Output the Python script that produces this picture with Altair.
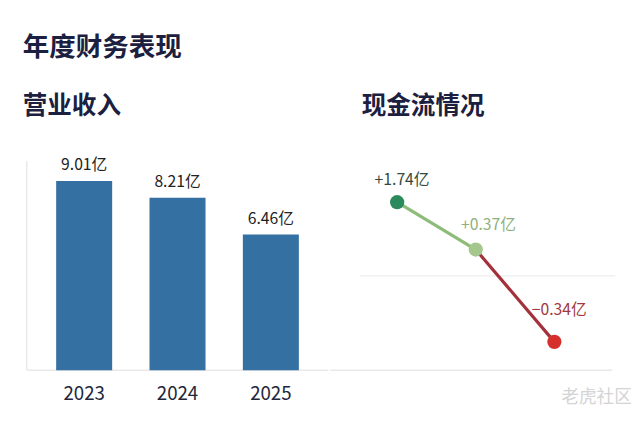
import altair as alt
import pandas as pd

# ---- data ----
years = ["2023", "2024", "2025"]
revenue = [9.01, 8.21, 6.46]          # 营业收入（亿）
cashflow = [1.74, 0.37, -0.34]        # 现金流（亿）

main_title = "年度财务表现"
left_title = "营业收入"
right_title = "现金流情况"
watermark = "老虎社区"

# ---- styles ----
FONT = "Noto Sans CJK SC"
TITLE_COLOR = "#1c2040"
BAR_COLOR = "#3470a2"
point_colors = ["#2a8a5c", "#a5c78d", "#d5302c"]
segment_colors = ["#8dbb78", "#a3303a"]
label_colors = ["#344a40", "#8fb07c", "#a1383d"]

rev_df = pd.DataFrame({
    "year": years,
    "value": revenue,
    "label": [f"{v:.2f}亿" for v in revenue],
})
cf_df = pd.DataFrame({
    "year": years,
    "value": cashflow,
    "label": [f"{v:+.2f}亿".replace("-", "−") for v in cashflow],
})
seg_df = pd.DataFrame({
    "year": years[:-1],
    "next_year": years[1:],
    "value": cashflow[:-1],
    "next_value": cashflow[1:],
})

LW, RW, H = 326, 290, 365

# ---------- left panel: revenue bars ----------
xs = alt.X("year:N", sort=years,
           scale=alt.Scale(type="band", range=[19, LW], paddingInner=0.4, paddingOuter=0.316),
           axis=alt.Axis(title=None, domain=False, ticks=False, labelAngle=0,
                         labelFontSize=19, labelFont=FONT, labelColor="#23263a",
                         labelPadding=15))
ys = alt.Y("value:Q", scale=alt.Scale(domain=[0, 10.9], range=[H, 132], nice=False),
           axis=None)

base_l = alt.Chart(rev_df)
bars = base_l.mark_bar(color=BAR_COLOR).encode(x=xs, y=ys)
bar_labels = base_l.mark_text(dy=-16, baseline="middle", fontSize=16, font=FONT,
                              color="#222222").encode(x=xs, y=ys, text="label:N")

one = pd.DataFrame({"k": [0]})
vline = alt.Chart(one).mark_rule(color="#e9e9e9", strokeWidth=1.5).encode(
    x=alt.value(19), y=alt.value(152), y2=alt.value(H))
baseline_l = alt.Chart(one).mark_rule(color="#e9e9e9", strokeWidth=1.5).encode(
    x=alt.value(19), x2=alt.value(LW), y=alt.value(H))

t_main = alt.Chart(pd.DataFrame({"t": [main_title]})).mark_text(
    align="left", baseline="middle", fontSize=27, fontWeight="bold", font=FONT,
    color=TITLE_COLOR).encode(x=alt.value(15), y=alt.value(37), text="t:N")
t_left = alt.Chart(pd.DataFrame({"t": [left_title]})).mark_text(
    align="left", baseline="middle", fontSize=25, fontWeight="bold", font=FONT,
    color=TITLE_COLOR).encode(x=alt.value(15), y=alt.value(96), text="t:N")

left = alt.layer(vline, baseline_l, bars, bar_labels, t_main, t_left).properties(
    width=LW, height=H)

# ---------- right panel: cash flow line ----------
xp = alt.X("year:N", sort=years,
           scale=alt.Scale(type="point", domain=years, range=[68, 228], padding=0),
           axis=None)
yp = alt.Y("value:Q",
           scale=alt.Scale(type="pow", exponent=0.45, domain=[-1.0, 5.27],
                           range=[H, 132], nice=False, zero=False),
           axis=None)

grid = alt.Chart(one).mark_rule(color="#ededed", strokeWidth=1.2).encode(
    x=alt.value(30), x2=alt.value(290), y=alt.value(269))
baseline_r = alt.Chart(one).mark_rule(color="#e9e9e9", strokeWidth=1.5).encode(
    x=alt.value(0), x2=alt.value(287), y=alt.value(H))

segs = alt.Chart(seg_df).mark_rule(strokeWidth=3.2).encode(
    x=xp, x2="next_year:N", y=yp, y2="next_value:Q",
    color=alt.Color("year:N", scale=alt.Scale(domain=years[:-1], range=segment_colors),
                    legend=None))
pts = alt.Chart(cf_df).mark_circle(size=210, opacity=1).encode(
    x=xp, y=yp,
    color=alt.Color("year:N", scale=alt.Scale(domain=years, range=point_colors),
                    legend=None))

offsets = [(5, -23), (13, -25), (5, -32)]
label_layers = []
for i, yr in enumerate(years):
    dx, dy = offsets[i]
    label_layers.append(
        alt.Chart(cf_df).transform_filter(alt.datum.year == yr).mark_text(
            dx=dx, dy=dy, baseline="middle", fontSize=16, font=FONT,
            color=label_colors[i]).encode(x=xp, y=yp, text="label:N"))

t_right = alt.Chart(pd.DataFrame({"t": [right_title]})).mark_text(
    align="left", baseline="middle", fontSize=25, fontWeight="bold", font=FONT,
    color=TITLE_COLOR).encode(x=alt.value(32), y=alt.value(96), text="t:N")
wm = alt.Chart(pd.DataFrame({"t": [watermark]})).mark_text(
    align="left", baseline="middle", fontSize=18, font=FONT, color="#d4d4d4").encode(
    x=alt.value(235), y=alt.value(393), text="t:N")

right = alt.layer(grid, baseline_r, segs, pts, *label_layers, t_right, wm).resolve_scale(
    color="independent").properties(width=RW, height=H)

chart = alt.hconcat(left, right, spacing=0).properties(
    padding={"left": 0, "top": 0, "right": 0, "bottom": 0}
).configure_view(stroke=None)

chart.save("out.html", embed_options={"renderer": "svg", "actions": False})
